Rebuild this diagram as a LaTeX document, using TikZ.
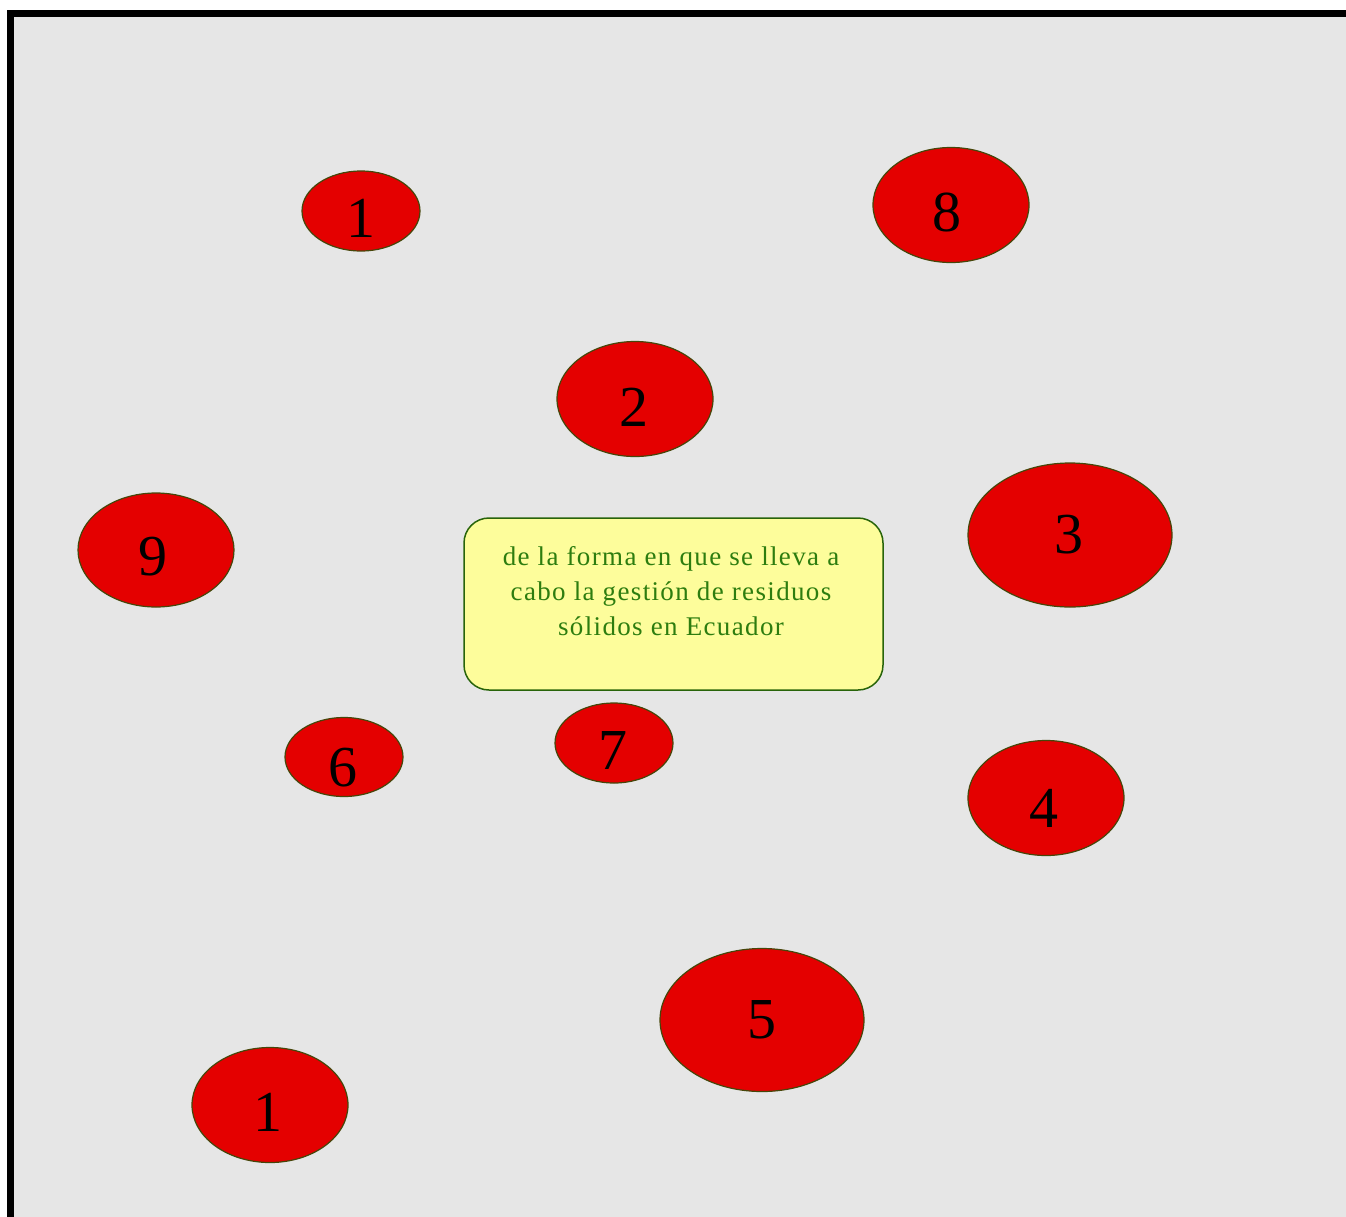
\documentclass[tikz,border=0pt]{standalone}
\usepackage{fontspec}
\setmainfont{Liberation Serif}
\newfontfamily\boxfont[LetterSpace=5.0]{Liberation Serif}
\usetikzlibrary{shapes.geometric}
\definecolor{bggray}{RGB}{230,230,230}
\definecolor{blobred}{RGB}{228,0,0}
\definecolor{blobedge}{RGB}{70,70,10}
\definecolor{boxfill}{RGB}{253,253,155}
\definecolor{boxedge}{RGB}{40,100,10}
\definecolor{txtgreen}{RGB}{45,125,15}
\tikzset{
  blob/.style={ellipse, draw=blobedge, line width=1.2pt, fill=blobred, inner sep=0pt, minimum width=#1},
  num/.style={font=\fontsize{58}{58}\selectfont, text=black, inner sep=0pt},
}
\begin{document}
\begin{tikzpicture}[x=1pt,y=-1pt]
\useasboundingbox (0,0) rectangle (1346,1216);
\clip (0,0) rectangle (1346,1216);
\fill[white] (0,0) rectangle (1346,1216);
\filldraw[fill=bggray, draw=black, line width=7pt] (10.5,13.5) rectangle (1360,1240);
% ellipses
\node[blob=118pt, minimum height=80pt] (e1a) at (361,211) {};
\node[blob=156pt, minimum height=115pt] (e8) at (951,205) {};
\node[blob=156pt, minimum height=115pt] (e2) at (635,399) {};
\node[blob=156pt, minimum height=114pt] (e9) at (156,550) {};
\node[blob=204pt, minimum height=144pt] (e3) at (1070,535) {};
\node[blob=118pt, minimum height=79pt] (e6) at (344,757) {};
\node[blob=118pt, minimum height=80pt] (e7) at (614,743) {};
\node[blob=156pt, minimum height=115pt] (e4) at (1046,798) {};
\node[blob=204pt, minimum height=143pt] (e5) at (762,1020) {};
\node[blob=156pt, minimum height=115pt] (e1b) at (270,1105) {};
% numbers
\node[num] (n1a) at (361,218) {1};
\node[num] (n8) at (947,212) {8};
\node[num] (n2) at (634,407) {2};
\node[num] (n9) at (153,557) {9};
\node[num] (n3) at (1069,535) {3};
\node[num] (n6) at (343,768) {6};
\node[num] (n7) at (613,750) {7};
\node[num] (n4) at (1044,808) {4};
\node[num] (n5) at (762,1020) {5};
\node[num] (n1b) at (268,1112) {1};
% central box
\node[draw=boxedge, line width=1.5pt, fill=boxfill, rounded corners=25pt,
      minimum width=419pt, minimum height=172pt, inner sep=0pt] (box) at (673.5,604) {};
\node[text=txtgreen, align=center, font=\boxfont\fontsize{27}{35}\selectfont, anchor=north, inner sep=0pt] (txt) at (671,546)
  {de la forma en que se lleva a\\cabo la gestión de residuos\\sólidos en Ecuador};
\end{tikzpicture}
\end{document}
